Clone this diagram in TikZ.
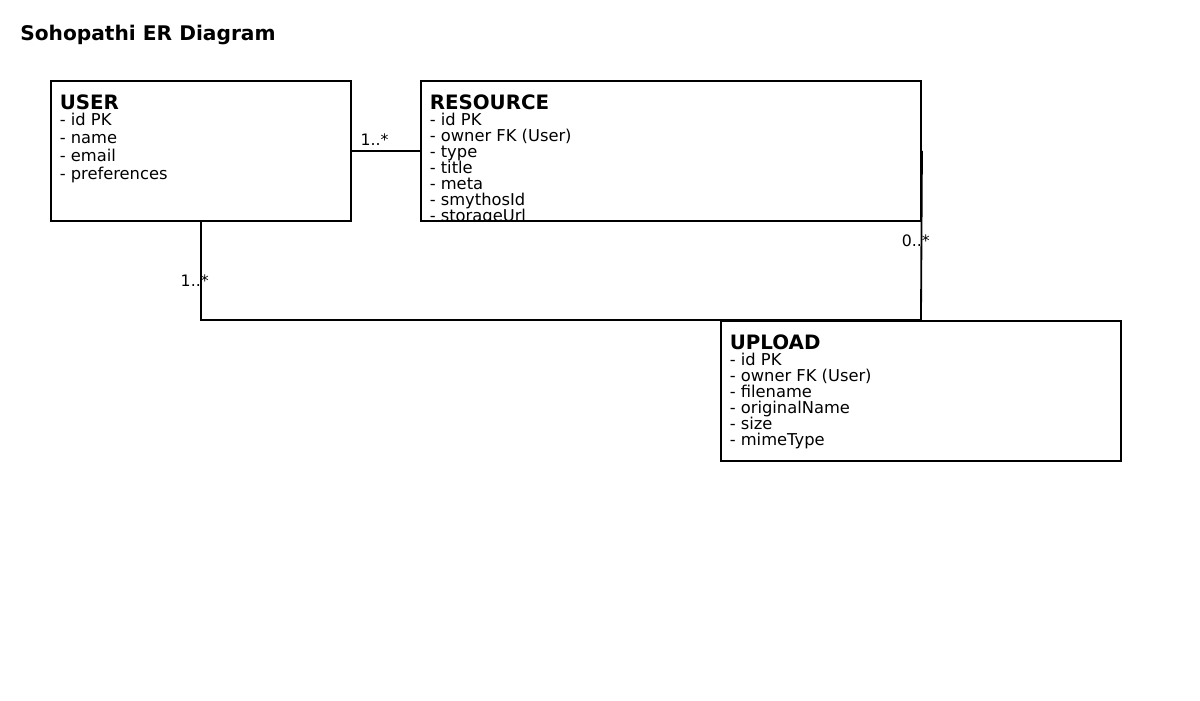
\documentclass[tikz,border=0pt]{standalone}
\usepackage{fontspec}
\setmainfont{DejaVu Sans}
\usetikzlibrary{positioning}

\begin{document}
\begin{tikzpicture}[
    x=0.025cm, y=-0.025cm,
    entity/.style={rectangle, draw, line width=1.3pt, anchor=north west, inner sep=0pt},
    head/.style={anchor=base west, inner sep=0pt, font=\fontsize{14.1pt}{16pt}\selectfont\bfseries},
    attr/.style={anchor=base west, inner sep=0pt, font=\fontsize{11.6pt}{13pt}\selectfont},
    card/.style={anchor=base west, inner sep=0pt, font=\fontsize{11.2pt}{13pt}\selectfont},
    link/.style={line width=1.3pt}
]
    \useasboundingbox (0,0) rectangle (1200,700);
    \node[anchor=base west, inner sep=0pt, font=\fontsize{14.35pt}{17pt}\selectfont\bfseries] (title) at (20,40) {Sohopathi ER Diagram};

    % entities
    \node[entity, minimum width=7.5cm, minimum height=3.5cm] (user) at (50,80) {};
    \node[entity, minimum width=12.5cm, minimum height=3.5cm] (resource) at (420,80) {};
    \node[entity, minimum width=10cm, minimum height=3.5cm] (upload) at (720,320) {};

    \node[head] (userhead) at ([shift={(9.5,29)}]user.north west) {USER};
    \foreach \t [count=\i] in {- id PK, - name, - email, - preferences}
        \node[attr] (user-\i) at ([shift={(9.5,27.5+18*\i)}]user.north west) {\t};

    \node[head] (reshead) at ([shift={(9.5,29)}]resource.north west) {RESOURCE};
    \begin{scope}
        \clip (resource.north west) rectangle (resource.south east);
        \foreach \t [count=\i] in {- id PK, - owner FK (User), - type, - title, - meta, - smythosId, - storageUrl}
            \node[attr] (res-\i) at ([shift={(9.5,29.5+16*\i)}]resource.north west) {\t};
    \end{scope}

    \node[head] (uphead) at ([shift={(9.5,29)}]upload.north west) {UPLOAD};
    \foreach \t [count=\i] in {- id PK, - owner FK (User), - filename, - originalName, - size, - mimeType}
        \node[attr] (up-\i) at ([shift={(9.5,29.5+16*\i)}]upload.north west) {\t};

    % relations
    \draw[link] (user.east) -- (resource.west);
    \draw[link] (user.south) |- (upload.north);
    \draw[link] (resource.east) -- (upload.north);

    \node[card] (card-ur) at ([shift={(8.5,-5)}]user.east) {1..*};
    \node[card] (card-uu) at ([shift={(-20.5,65)}]user.south) {1..*};
    \node[card] (card-ru) at ([shift={(-20.5,25)}]resource.south east) {0..*};

\end{tikzpicture}
\end{document}
